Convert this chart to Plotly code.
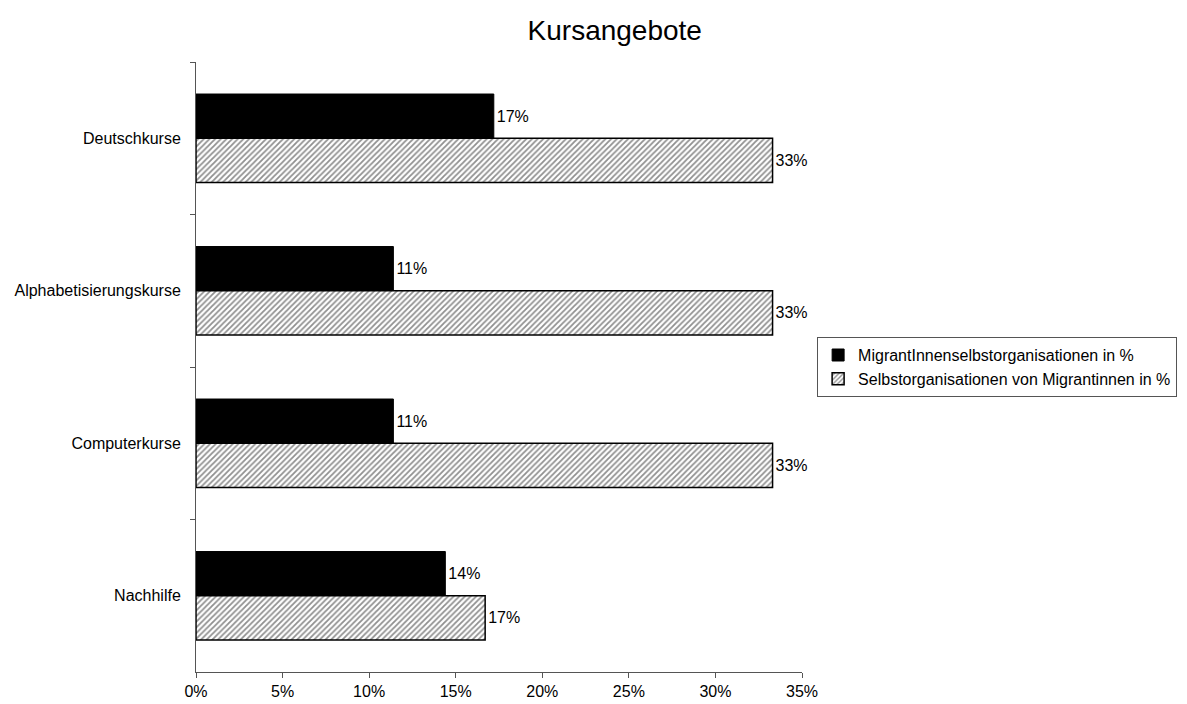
import plotly.graph_objects as go

categories = ["Deutschkurse", "Alphabetisierungskurse", "Computerkurse", "Nachhilfe"]
series1_name = "MigrantInnenselbstorganisationen in %"
series1 = [17.2, 11.4, 11.4, 14.4]
series2_name = "Selbstorganisationen von Migrantinnen in %"
series2 = [33.3, 33.3, 33.3, 16.7]
x_ticks = [0, 5, 10, 15, 20, 25, 30, 35]
x_tick_labels = ["0%", "5%", "10%", "15%", "20%", "25%", "30%", "35%"]

FONT = "Liberation Sans, Arial, sans-serif"
FS = 16

fig = go.Figure()
fig.add_trace(go.Bar(
    y=categories, x=series1, orientation="h", name=series1_name,
    marker=dict(color="black", line=dict(color="black", width=1)),
    texttemplate="%{x:.0f}%", textposition="outside",
    textfont=dict(size=FS, color="black", family=FONT), cliponaxis=False,
))
fig.add_trace(go.Bar(
    y=categories, x=series2, orientation="h", name=series2_name,
    marker=dict(color="white", line=dict(color="black", width=1.5),
                pattern=dict(shape="/", fgcolor="#222222", bgcolor="white",
                             size=4, solidity=0.45)),
    texttemplate="%{x:.0f}%", textposition="outside",
    textfont=dict(size=FS, color="black", family=FONT), cliponaxis=False,
))

fig.update_layout(
    width=1187, height=704,
    paper_bgcolor="white", plot_bgcolor="white",
    barmode="group", bargap=0.42, bargroupgap=0,
    margin=dict(l=188, r=393, t=54, b=40, autoexpand=False),
    font=dict(family=FONT, size=FS, color="black"),
    title=dict(text="Kursangebote", x=0.691, xref="paper", xanchor="center",
               y=1 - 22 / 704, yref="container", yanchor="middle",
               font=dict(size=28, family=FONT, color="black")),
    legend=dict(x=1.619, y=0.549, xanchor="right", yanchor="top",
                bordercolor="#555555", borderwidth=1, bgcolor="white",
                font=dict(size=FS, family=FONT), traceorder="normal",
                itemwidth=30, tracegroupgap=0),
    showlegend=True,
)
fig.update_xaxes(range=[0, 35], tickvals=x_ticks, ticktext=x_tick_labels,
                 showgrid=False, zeroline=False, showline=True, linecolor="#555555",
                 linewidth=1, ticks="outside", ticklen=5, tickcolor="#555555",
                 tickfont=dict(size=FS, family=FONT))
fig.update_yaxes(autorange="reversed", showgrid=False, zeroline=False,
                 showline=True, linecolor="#555555", linewidth=1,
                 ticks="outside", ticklen=5, tickcolor="#555555",
                 tickson="boundaries", ticklabelstandoff=11,
                 tickfont=dict(size=FS, family=FONT))

fig.write_html("out.html")
